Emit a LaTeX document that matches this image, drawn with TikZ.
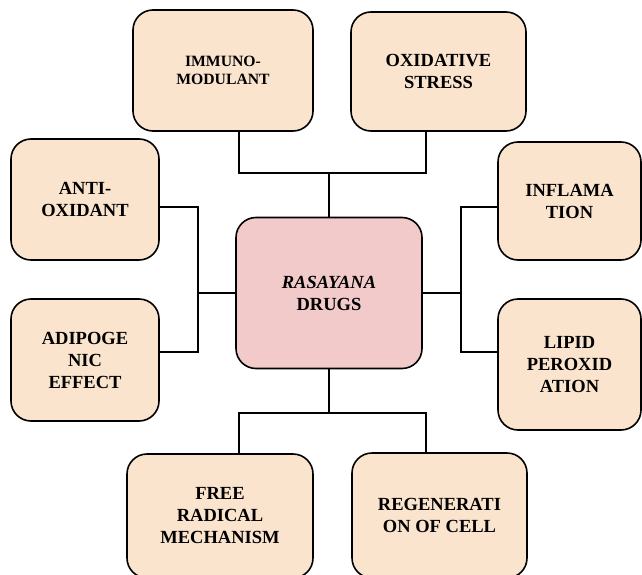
\documentclass[tikz,border=0pt]{standalone}
\usepackage{fontspec}
\setmainfont{Liberation Serif}
\definecolor{peach}{HTML}{FBE4CD}
\definecolor{rose}{HTML}{F2CACA}

\begin{document}
\begin{tikzpicture}[x=1pt,y=-1pt,line width=1.6pt,
  box/.style={draw,rounded corners=20pt,fill=peach,inner sep=0pt,align=center,
    font=\fontsize{18.5}{22}\selectfont\bfseries},
  drugbox/.style={box,fill=rose}]

\useasboundingbox (0,0) rectangle (642,575);

\node[drugbox,minimum width=186pt,minimum height=151pt] (rasayana) at (329,293) {\textit{RASAYANA}\\DRUGS};

\node[box,minimum width=180pt,minimum height=121pt,font=\fontsize{15.7}{18.5}\selectfont\bfseries] (immuno) at (223,70.5) {IMMUNO-\\MODULANT};
\node[box,minimum width=175pt,minimum height=119pt] (oxid) at (438.5,71.5) {OXIDATIVE\\STRESS};

\node[box,minimum width=148pt,minimum height=121pt] (anti) at (85,199.5) {ANTI-\\OXIDANT};
\node[box,minimum width=148pt,minimum height=122pt] (adipo) at (85,360) {ADIPOGE\\NIC\\EFFECT};

\node[box,minimum width=143pt,minimum height=118pt] (inflam) at (569.5,201) {INFLAMA\\TION};
\node[box,minimum width=143pt,minimum height=131pt] (lipid) at (569.5,364.5) {LIPID\\PEROXID\\ATION};

\node[box,minimum width=186pt,minimum height=124pt] (freerad) at (220,516) {FREE\\RADICAL\\MECHANISM};
\node[box,minimum width=175pt,minimum height=125pt] (regen) at (439.5,515.5) {REGENERATI\\ON OF CELL};

\coordinate (topjoin) at ([yshift=43.5pt]rasayana.north);
\coordinate (leftjoin) at ([xshift=-37pt]rasayana.west);
\coordinate (rightjoin) at ([xshift=38pt]rasayana.east);
\coordinate (botjoin) at ([yshift=-43.5pt]rasayana.south);

\draw (rasayana.north) -- (topjoin);
\draw ([xshift=16pt]immuno.south) |- (topjoin) -| ([xshift=-12.5pt]oxid.south);

\draw (rasayana.west) -- (leftjoin);
\draw ([yshift=-7.5pt]anti.east) -| (leftjoin) |- ([yshift=8pt]adipo.east);

\draw (rasayana.east) -- (rightjoin);
\draw ([yshift=-6pt]inflam.west) -| (rightjoin) |- ([yshift=12.5pt]lipid.west);

\draw (rasayana.south) -- (botjoin);
\draw ([xshift=19pt]freerad.north) |- (botjoin) -| ([xshift=-13.5pt]regen.north);
\end{tikzpicture}
\end{document}
